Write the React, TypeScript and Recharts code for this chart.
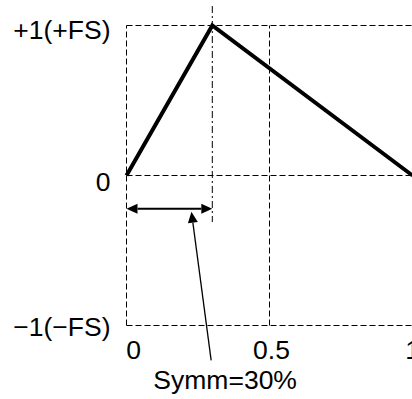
import React from 'react';
import { LineChart, Line, XAxis, YAxis, ReferenceLine } from 'recharts';

// ---- data ----
const phase = [0, 0.3, 1];
const amplitude = [0, 1, 0];
const xTicks = [0, 0.5, 1];
const xTickLabels = ['0', '0.5', '1'];
const yTicks = [-1, 0, 1];
const yTickLabels = ['\u22121(\u2212FS)', '0', '+1(+FS)'];
const symmetry = 0.3;
const gridX = [0, 0.5, 1];
const gridY = [-1, 0, 1];
const annotation = 'Symm=30%';

const data = phase.map((p, i) => ({ x: p, y: amplitude[i] }));

const FONT = '"Liberation Sans", Arial, Helvetica, sans-serif';
const FS = 26.5;
const yLabelDy = [10, 15, 13];
const xLabelDx = [7, 2, 0];

const YTick = (props: any) => {
  const { x, y, index } = props;
  return (
    <text x={x} y={y + (yLabelDy[index] ?? 9)} textAnchor="end" fontFamily={FONT} fontSize={FS} fill="#000">
      {yTickLabels[index]}
    </text>
  );
};

const XTick = (props: any) => {
  const { x, y, index } = props;
  return (
    <text x={x + (xLabelDx[index] ?? 0)} y={y + 31} textAnchor="middle" fontFamily={FONT} fontSize={FS} fill="#000">
      {xTickLabels[index]}
    </text>
  );
};

const DoubleArrow = (props: any) => {
  const { x1, y1, x2, y2 } = props;
  const L = 11, H = 5;
  return (
    <g>
      <line x1={x1 + L} y1={y1} x2={x2 - L} y2={y2} stroke="#000" strokeWidth={2} />
      <polygon points={`${x1},${y1} ${x1 + L},${y1 - H} ${x1 + L},${y1 + H}`} fill="#000" />
      <polygon points={`${x2},${y2} ${x2 - L},${y2 - H} ${x2 - L},${y2 + H}`} fill="#000" />
    </g>
  );
};

const Pointer = (props: any) => {
  const { x1, y1, x2, y2 } = props;
  const dx = x1 - x2, dy = y1 - y2;
  const len = Math.sqrt(dx * dx + dy * dy) || 1;
  const ux = dx / len, uy = dy / len;
  const px = -uy, py = ux;
  const L = 11, H = 5;
  const bx = x1 - ux * L, by = y1 - uy * L;
  return (
    <g>
      <line x1={bx} y1={by} x2={x2} y2={y2} stroke="#000" strokeWidth={1.3} />
      <polygon points={`${x1},${y1} ${bx + px * H},${by + py * H} ${bx - px * H},${by - py * H}`} fill="#000" />
      <text x={x2 + 14} y={y2 + 29} textAnchor="middle" fontFamily={FONT} fontSize={FS} fill="#000">
        {annotation}
      </text>
    </g>
  );
};

export default function App() {
  return (
    <div style={{ position: 'absolute', left: 0, top: 0, width: 412, height: 399, overflow: 'hidden', background: '#fff' }}>
      <LineChart
        width={414}
        height={399}
        data={data}
        margin={{ top: 25.5, right: 1.5, left: 0, bottom: 0 }}
      >
        <XAxis
          type="number"
          dataKey="x"
          domain={[0, 1]}
          ticks={xTicks}
          axisLine={false}
          tickLine={false}
          tickSize={0}
          height={73.5}
          tick={<XTick />}
          interval={0}
        />
        <YAxis
          type="number"
          domain={[-1, 1]}
          ticks={yTicks}
          axisLine={false}
          tickLine={false}
          tickSize={0}
          tickMargin={16}
          width={126.5}
          tick={<YTick />}
          interval={0}
        />
        {gridY.map((v) => (
          <ReferenceLine key={'gy' + v} y={v} stroke="#000" strokeWidth={1} strokeDasharray="6 3" />
        ))}
        {gridX.map((v) => (
          <ReferenceLine key={'gx' + v} x={v} stroke="#000" strokeWidth={1} strokeDasharray="6 3" />
        ))}
        <ReferenceLine
          segment={[{ x: symmetry, y: 1.13 }, { x: symmetry, y: -0.31 }]}
          stroke="#000"
          strokeWidth={1}
          strokeDasharray="7 3 2 3"
          ifOverflow="visible"
        />
        <Line
          type="linear"
          dataKey="y"
          stroke="#000"
          strokeWidth={4}
          dot={false}
          activeDot={false}
          isAnimationActive={false}
        />
        <ReferenceLine
          segment={[{ x: 0, y: -0.222 }, { x: symmetry, y: -0.222 }]}
          ifOverflow="visible"
          shape={(p: any) => <DoubleArrow {...p} />}
        />
        <ReferenceLine
          segment={[{ x: 0.227, y: -0.242 }, { x: 0.296, y: -1.233 }]}
          ifOverflow="visible"
          shape={(p: any) => <Pointer {...p} />}
        />
      </LineChart>
    </div>
  );
}
